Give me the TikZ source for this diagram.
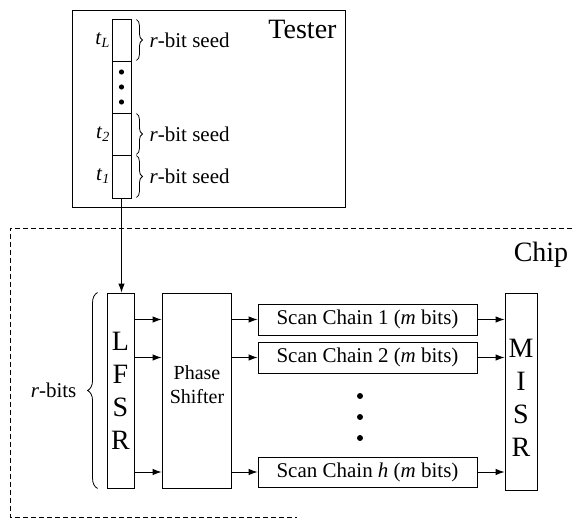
\documentclass[tikz,border=0pt]{standalone}
\usepackage{fontspec}
\setmainfont{Liberation Serif}
\usetikzlibrary{arrows.meta,decorations.pathreplacing}
\begin{document}
\begin{tikzpicture}[x=1pt,y=-1pt,
  box/.style={draw,line width=0.9pt,inner sep=0pt,rectangle},
  arr/.style={-{Latex[length=9pt,width=6.5pt]},line width=0.9pt},
  lbl/.style={font=\fontsize{21}{25}\selectfont,inner sep=0pt},
  big/.style={font=\fontsize{28}{33}\selectfont,inner sep=0pt},
  brc/.style={decorate,decoration={brace,amplitude=#1},line width=0.8pt},
  brc/.default=6pt,
  dotm/.style={fill=black},
]
\useasboundingbox (0,0) rectangle (574,519);

% Tester
\node[box,minimum width=273pt,minimum height=197pt] (tester) at (208.5,108.5) {};
\node[big,anchor=base] (testerlbl) at (302.5,39) {Tester};
\node[box,minimum width=19pt,minimum height=42pt] (cL) at (121.5,40) {};
\node[box,minimum width=19pt,minimum height=52pt] (cD) at (121.5,87) {};
\node[box,minimum width=19pt,minimum height=42pt] (c2) at (121.5,134) {};
\node[box,minimum width=19pt,minimum height=43pt] (c1) at (121.5,176.5) {};
\fill[dotm] (121.5,72) circle (2.6pt) (121.5,87) circle (2.6pt) (121.5,102) circle (2.6pt);

\node[lbl,anchor=east] (tLl) at ([xshift=-2pt]cL.west) {\textit{t}\raisebox{-0.3ex}{\fontsize{14}{14}\selectfont\textit{L}}};
\node[lbl,anchor=east] (t2l) at ([xshift=-2pt]c2.west) {\textit{t}\raisebox{-0.3ex}{\fontsize{14}{14}\selectfont\textit{2}}};
\node[lbl,anchor=east] (t1l) at ([xshift=-2pt]c1.west) {\textit{t}\raisebox{-0.3ex}{\fontsize{14}{14}\selectfont\textit{1}}};

\draw[brc] ([xshift=5pt,yshift=-1pt]cL.north east) -- ([xshift=5pt,yshift=1pt]cL.south east);
\draw[brc] ([xshift=5pt,yshift=-1pt]c2.north east) -- ([xshift=5pt,yshift=1pt]c2.south east);
\draw[brc] ([xshift=5pt,yshift=-1pt]c1.north east) -- ([xshift=5pt,yshift=1pt]c1.south east);
\node[lbl,anchor=west] (sL) at ([xshift=18pt]cL.east) {\textit{r}-bit seed};
\node[lbl,anchor=west] (s2) at ([xshift=18pt]c2.east) {\textit{r}-bit seed};
\node[lbl,anchor=west] (s1) at ([xshift=18pt]c1.east) {\textit{r}-bit seed};

% Chip
\coordinate (chA) at (572,228);
\coordinate (chB) at (10,228);
\coordinate (chC) at (10,517);
\coordinate (chD) at (297,517);
\draw[dash pattern=on 5pt off 3pt,line width=0.8pt] (chA) -- (chB) -- (chC) -- (chD);
\node[big,anchor=base] (chiplbl) at (541,261) {Chip};

\node[box,minimum width=27pt,minimum height=195pt,big,align=center] (lfsr) at (120.5,390.5) {L\\F\\S\\R};
\node[box,minimum width=69pt,minimum height=195pt] (ps) at (196.5,390.5) {};
\node[font=\fontsize{20}{24}\selectfont,align=center,inner sep=0pt] (pstxt) at (197,385) {Phase\\Shifter};

\node[box,lbl,minimum width=219pt,minimum height=31pt] (sc1) at (367.5,319.5) {Scan Chain 1 (\textit{m} bits)};
\node[box,lbl,minimum width=219pt,minimum height=31pt] (sc2) at (367.5,357.5) {Scan Chain 2 (\textit{m} bits)};
\node[box,lbl,minimum width=219pt,minimum height=30pt] (sch) at (367.5,472) {Scan Chain \textit{h} (\textit{m} bits)};
\fill[dotm] (360,396) circle (3pt) (360,417) circle (3pt) (360,438) circle (3pt);

\node[box,minimum width=32pt,minimum height=197pt] (misr) at (521,391.5) {};
\node[big,align=center] (misrtxt) at (521,397.5) {M\\I\\S\\R};

\draw[brc=10pt] ([xshift=-9pt]lfsr.south west) -- ([xshift=-9pt]lfsr.north west);
\node[lbl,anchor=east] (rbits) at ([xshift=-30pt]lfsr.west) {\textit{r}-bits};

% connectors
\draw[arr] (c1.south) -- (c1.south |- lfsr.north);
\foreach \s in {sc1,sc2,sch}{
  \draw[arr] (lfsr.east |- \s) -- (ps.west |- \s);
  \draw[arr] (ps.east |- \s) -- (\s.west);
  \draw[arr] (\s.east) -- (\s.east -| misr.west);
}
\end{tikzpicture}
\end{document}
